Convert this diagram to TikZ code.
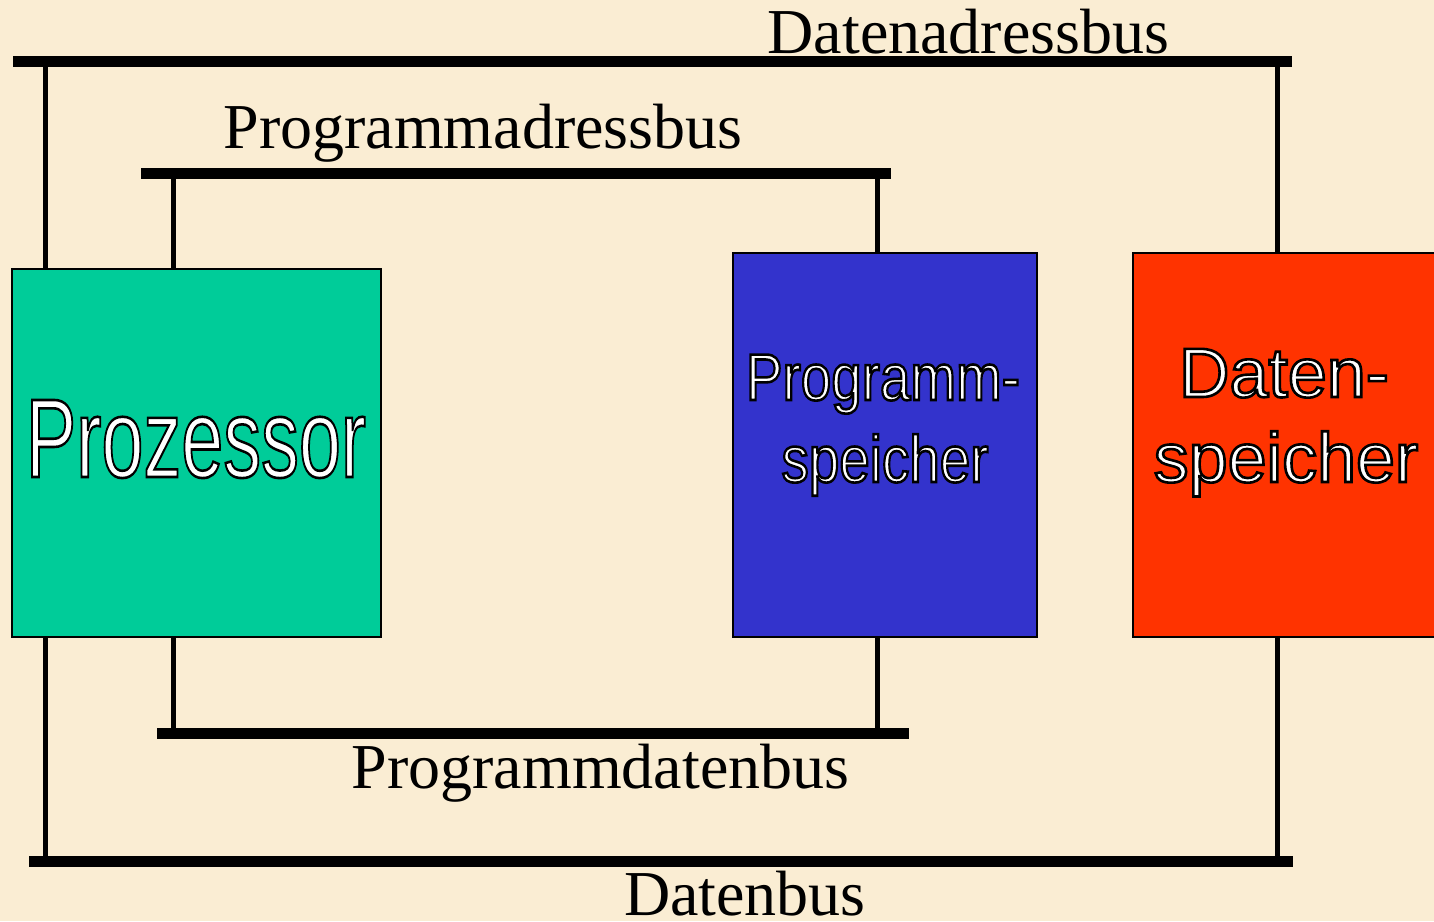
\documentclass[tikz,border=0pt]{standalone}
\usepackage{fontspec}
\setmainfont{Liberation Serif}
\newfontfamily\boxfont{Liberation Sans}
\definecolor{parchment}{RGB}{250,237,211}
\definecolor{cpu}{RGB}{0,204,153}
\definecolor{progmem}{RGB}{51,51,204}
\definecolor{datamem}{RGB}{255,51,0}
% white letters with a thin black outline (fill + stroke rendering)
\newcommand\outlined[1]{\special{pdf:literal direct 0 0 0 RG 2.6 w 2 Tr}#1\special{pdf:literal direct 0 Tr}}
\begin{document}
\begin{tikzpicture}[x=1pt,y=-1pt,
  unit/.style={draw=black,line width=1.2pt,inner sep=0pt,outer sep=0pt},
  bus/.style={line width=11pt,line cap=butt},
  drop/.style={line width=5pt,line cap=butt},
  buslabel/.style={anchor=base,inner sep=0pt,font=\fontsize{64}{70}\selectfont},
  boxlabel/.style={anchor=base,inner sep=0pt,text=white}]
\useasboundingbox (0,0) rectangle (1434,921);
\fill[parchment] (0,0) rectangle (1434,921);
\clip (0,0) rectangle (1434,921);

% functional units
\node[unit,fill=cpu,minimum width=369,minimum height=368] (pz) at (196.5,453) {};
\node[unit,fill=progmem,minimum width=304,minimum height=384] (pm) at (885,445) {};
\node[unit,fill=datamem,minimum width=320,minimum height=384] (dm) at (1293,445) {};

\node[boxlabel,font=\boxfont\fontsize{112}{120}\selectfont] (pzt) at (196,477)
  {\scalebox{0.675}[1]{\outlined{Prozessor}}};
\node[boxlabel,font=\boxfont\fontsize{66}{70}\selectfont] (pmt1) at (883,400)
  {\scalebox{0.83}[1]{\outlined{Programm-}}};
\node[boxlabel,font=\boxfont\fontsize{66}{70}\selectfont] (pmt2) at (885,482)
  {\scalebox{0.83}[1]{\outlined{speicher}}};
\node[boxlabel,font=\boxfont\fontsize{70}{72}\selectfont] (dmt1) at (1284,397)
  {\outlined{Daten-}};
\node[boxlabel,font=\boxfont\fontsize{70}{72}\selectfont] (dmt2) at (1286,482)
  {\outlined{speicher}};

% bus lines
\coordinate (dab-w) at (13,61);    \coordinate (dab-e) at (1292,61);
\coordinate (pab-w) at (141,173.5); \coordinate (pab-e) at (891,173.5);
\coordinate (pdb-w) at (157,733);  \coordinate (pdb-e) at (909,733);
\coordinate (db-w)  at (29,861.5); \coordinate (db-e)  at (1293,861.5);
\draw[bus] (dab-w) -- (dab-e);
\draw[bus] (pab-w) -- (pab-e);
\draw[bus] (pdb-w) -- (pdb-e);
\draw[bus] (db-w) -- (db-e);

% taps from the buses to the units
\coordinate (x1) at (45,0);
\coordinate (x2) at (173,0);
\coordinate (x3) at (877,0);
\coordinate (x4) at (1277.5,0);
\draw[drop] (x1 |- dab-w) -- (x1 |- pz.north);
\draw[drop] (x1 |- pz.south) -- (x1 |- db-w);
\draw[drop] (x2 |- pab-w) -- (x2 |- pz.north);
\draw[drop] (x2 |- pz.south) -- (x2 |- pdb-w);
\draw[drop] (x3 |- pab-w) -- (x3 |- pm.north);
\draw[drop] (x3 |- pm.south) -- (x3 |- pdb-w);
\draw[drop] (x4 |- dab-w) -- (x4 |- dm.north);
\draw[drop] (x4 |- dm.south) -- (x4 |- db-w);

% bus names
\node[buslabel] (dabl) at (968.5,53) {Datenadressbus};
\node[buslabel] (pabl) at (483,148) {Programmadressbus};
\node[buslabel] (pdbl) at (600.5,788) {Programmdatenbus};
\node[buslabel] (dbl)  at (745,915) {Datenbus};
\end{tikzpicture}
\end{document}
